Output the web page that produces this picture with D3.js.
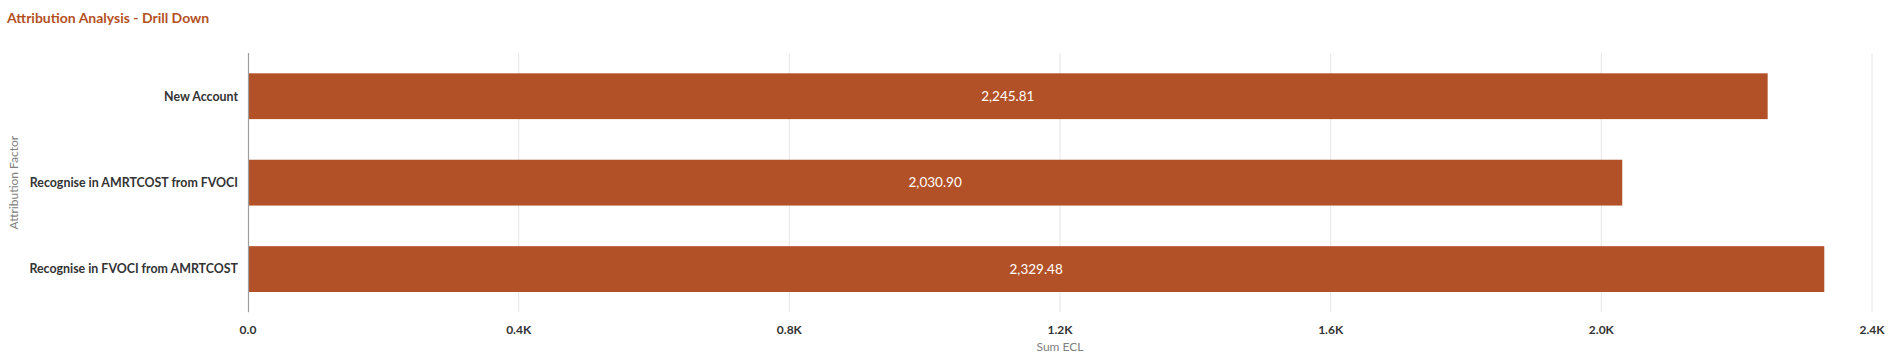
<!DOCTYPE html>
<html>
<head>
<meta charset="utf-8">
<script src="https://cdn.jsdelivr.net/npm/d3@7"></script>
<style>
  html, body { margin: 0; padding: 0; background: #fff; }
  svg { display: block; font-family: Lato, "Noto Sans", sans-serif; }
</style>
</head>
<body>
<svg id="chart" width="1891" height="355"></svg>
<script>
const categories = ["New Account", "Recognise in AMRTCOST from FVOCI", "Recognise in FVOCI from AMRTCOST"];
const values = [2245.81, 2030.90, 2329.48];
const xTicks = [0, 400, 800, 1200, 1600, 2000, 2400];
const xTickLabels = ["0.0", "0.4K", "0.8K", "1.2K", "1.6K", "2.0K", "2.4K"];
const titleText = "Attribution Analysis - Drill Down";
const xTitle = "Sum ECL";
const yTitle = "Attribution Factor";

const svg = d3.select("#chart");
const plotLeft = 248, plotRight = 1872, plotTop = 53, plotBottom = 312.3;

const x = d3.scaleLinear().domain([0, 2400]).range([plotLeft, plotRight]);
const y = d3.scaleBand().domain(categories).range([plotTop, plotBottom]).paddingInner(0.47).paddingOuter(0.235);

// title
svg.append("text").attr("x", 7).attr("y", 23)
  .attr("fill", "#b4501f").attr("font-weight", 700).attr("font-size", 14)
  .text(titleText);

// gridlines
svg.append("g").selectAll("line").data(xTicks.slice(1)).join("line")
  .attr("x1", d => x(d)).attr("x2", d => x(d))
  .attr("y1", plotTop).attr("y2", plotBottom)
  .attr("stroke", "#e6e6e6").attr("stroke-width", 1);

// bars
svg.append("g").selectAll("rect").data(categories).join("rect")
  .attr("x", x(0)).attr("y", d => y(d))
  .attr("width", (d, i) => x(values[i]) - x(0))
  .attr("height", y.bandwidth())
  .attr("fill", "#b25127");

// value labels
const fmt = d3.format(",.2f");
svg.append("g").selectAll("text").data(categories).join("text")
  .attr("x", (d, i) => (x(0) + x(values[i])) / 2)
  .attr("y", d => y(d) + y.bandwidth() / 2)
  .attr("dy", "0.35em").attr("text-anchor", "middle")
  .attr("fill", "#fff").attr("font-size", 13.5)
  .text((d, i) => fmt(values[i]));

// y axis line
svg.append("line").attr("x1", plotLeft + 0.5).attr("x2", plotLeft + 0.5)
  .attr("y1", plotTop).attr("y2", plotBottom)
  .attr("stroke", "#9e9e9e").attr("stroke-width", 1.2);

// category labels
svg.append("g").selectAll("text").data(categories).join("text")
  .attr("x", 238).attr("y", d => y(d) + y.bandwidth() / 2)
  .attr("dy", "0.35em").attr("text-anchor", "end")
  .attr("fill", "#333").attr("font-weight", 700).attr("font-size", 12.4)
  .text(d => d);

// x tick labels
svg.append("g").selectAll("text").data(xTicks).join("text")
  .attr("x", d => x(d)).attr("y", 330)
  .attr("dy", "0.35em").attr("text-anchor", "middle")
  .attr("fill", "#333").attr("font-weight", 700).attr("font-size", 12)
  .text((d, i) => xTickLabels[i]);

// axis titles
svg.append("text").attr("x", (plotLeft + plotRight) / 2).attr("y", 347)
  .attr("dy", "0.35em").attr("text-anchor", "middle")
  .attr("fill", "#808080").attr("font-size", 12).text(xTitle);

svg.append("text")
  .attr("transform", `translate(14,${(plotTop + plotBottom) / 2}) rotate(-90)`)
  .attr("dy", "0.35em").attr("text-anchor", "middle")
  .attr("fill", "#808080").attr("font-size", 12).text(yTitle);
</script>
</body>
</html>
